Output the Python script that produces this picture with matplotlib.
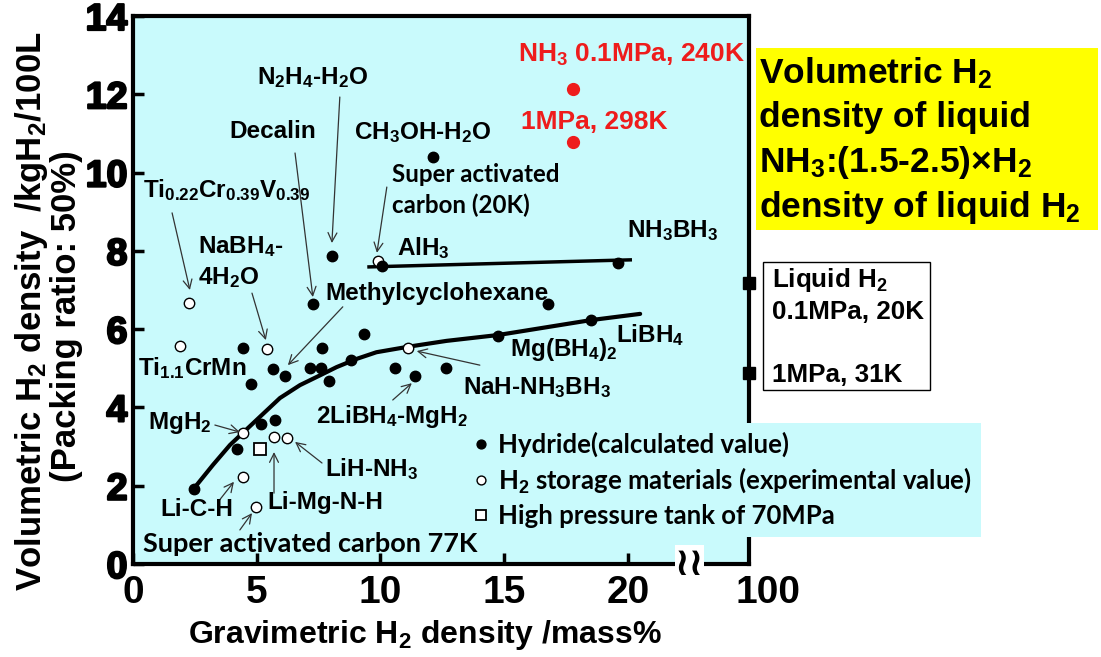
import matplotlib
matplotlib.use('Agg')
import matplotlib.pyplot as plt
import matplotlib.patheffects as pe
import matplotlib.transforms as mtransforms
from matplotlib.patches import Rectangle

W, H = 1101, 657

# hydrides (calculated value): gravimetric mass%, volumetric kgH2/100L
hyd_x = [2.45, 4.2, 5.17, 5.74, 4.44, 4.77, 5.66, 6.14, 7.15, 7.6, 7.64, 7.92, 8.8,
         9.33, 10.6, 11.4, 12.65, 14.75, 7.27, 16.77, 8.04, 10.06, 12.12, 19.6, 18.5]
hyd_y = [1.92, 2.95, 3.57, 3.67, 5.52, 4.6, 4.98, 4.8, 5.0, 5.0, 5.52, 4.68, 5.21,
         5.88, 5.0, 4.8, 5.0, 5.82, 6.64, 6.64, 7.87, 7.61, 10.4, 7.69, 6.23]

# H2 storage materials (experimental value)
exp_x = [1.9, 2.26, 5.41, 11.1, 4.45, 5.7, 6.21, 4.43, 4.97, 9.9]
exp_y = [5.57, 6.67, 5.49, 5.52, 3.34, 3.25, 3.21, 2.23, 1.46, 7.74]

# 70MPa tank
tank_x = [5.13]
tank_y = [2.95]

# liquid NH3 (0.1MPa 240K / 1MPa 298K)
nh3_x = [17.8, 17.8]
nh3_y = [12.13, 10.78]

# liquid H2 on the 100 mass% axis
lh2_y = [7.18, 4.88]

# trend through the hydrides
curve_x = [2.45, 3.23, 3.92, 4.44, 5.13, 5.94, 6.75, 7.56, 8.23, 9.04, 9.84,
           11.12, 12.67, 14.76, 18.5, 20.5]
curve_y = [1.92, 2.53, 3.04, 3.35, 3.76, 4.24, 4.57, 4.82, 5.03, 5.24, 5.41,
           5.55, 5.70, 5.85, 6.23, 6.39]

# AlH3 - NH3BH3 line
flat_x = [9.54, 20.1]
flat_y = [7.59, 7.77]

x_ticks = [0, 5, 10, 15, 20]
y_ticks = [0, 2, 4, 6, 8, 10, 12, 14]

plt.rcParams['font.family'] = ['Liberation Sans', 'DejaVu Sans']
plt.rcParams['font.weight'] = 'bold'
plt.rcParams['mathtext.fontset'] = 'custom'
plt.rcParams['mathtext.rm'] = 'Liberation Sans:bold'
plt.rcParams['mathtext.it'] = 'Liberation Sans:bold'
plt.rcParams['mathtext.bf'] = 'Liberation Sans:bold'

CYAN = '#c9fafc'
RED = '#ee1c1c'
CALIBRI = ['Lato', 'Liberation Sans', 'DejaVu Sans']
FS = 17.5


def fx(px):
    return px / W


def fy(py):
    return 1 - py / H


fig = plt.figure(figsize=(W / 100, H / 100), dpi=100)
ax = fig.add_axes([fx(133), fy(564), (749 - 133) / W, (564 - 16) / H])
ax.set_facecolor(CYAN)
ax.set_xlim(0, 24.9)
ax.set_ylim(0, 14)

for sp in ax.spines.values():
    sp.set_linewidth(3)
    sp.set_color('black')

ax.set_xticks(x_ticks)
ax.set_xticklabels([str(v) for v in x_ticks])
ax.set_yticks(y_ticks)
ax.set_yticklabels([str(v) for v in y_ticks])
ax.tick_params(direction='in', length=8, width=2.5, colors='black')
ax.tick_params(axis='x', labelsize=28, pad=8)
ax.tick_params(axis='y', labelsize=27, pad=4)
for lab in ax.get_yticklabels():
    lab.set_path_effects([pe.withStroke(linewidth=1.6, foreground='black')])
lbl_tr = mtransforms.offset_copy(ax.get_xaxis_transform(), fig=fig, y=-8, units='points')
ax.text(25.66, 0, '100', transform=lbl_tr, ha='center', va='top', fontsize=28, clip_on=False)

# axis break
ax.text(22.5, 0, '\u2240\u2240', ha='center', va='center', fontsize=28, family='DejaVu Sans',
        fontweight='bold', clip_on=False, zorder=6,
        bbox=dict(facecolor='white', edgecolor='none', pad=0.0))

# curves
ax.plot(curve_x, curve_y, color='black', lw=3, solid_capstyle='round',
        solid_joinstyle='round', zorder=3)
ax.plot(flat_x, flat_y, color='black', lw=2.5, zorder=3)

h_exp, = ax.plot(exp_x, exp_y, 'o', ms=7.5, mfc='white', mec='black', mew=1.0, ls='none', zorder=4)
h_hyd, = ax.plot(hyd_x, hyd_y, 'o', ms=7.5, color='black', ls='none', zorder=5)
h_tank, = ax.plot(tank_x, tank_y, 's', ms=8, mfc='white', mec='black', mew=1.3, ls='none', zorder=4)
ax.plot(nh3_x, nh3_y, 'o', ms=8.5, color=RED, ls='none', zorder=5)
ax.plot([24.9] * len(lh2_y), lh2_y, 's', ms=8, color='black', ls='none', clip_on=False, zorder=6)

# labels
notes = [
    (r'N$_2$H$_4$-H$_2$O', 7.27, 12.44, 'center'),
    ('Decalin', 5.66, 11.04, 'center'),
    (r'CH$_3$OH-H$_2$O', 11.72, 11.01, 'center'),
    (r'AlH$_3$', 10.67, 8.07, 'left'),
    (r'Ti$_{0.22}$Cr$_{0.39}$V$_{0.39}$', 3.8, 9.56, 'center'),
    (r'NaBH$_4$-', 2.63, 8.1, 'left'),
    (r'4H$_2$O', 2.63, 7.31, 'left'),
    ('Methylcyclohexane', 7.76, 6.92, 'left'),
    (r'Ti$_{1.1}$CrMn', 2.38, 5.01, 'center'),
    (r'MgH$_2$', 1.9, 3.6, 'center'),
    (r'2LiBH$_4$-MgH$_2$', 10.46, 3.76, 'center'),
    (r'Mg(BH$_4$)$_2$', 17.41, 5.47, 'center'),
    (r'LiBH$_4$', 20.9, 5.85, 'center'),
    (r'NaH-NH$_3$BH$_3$', 13.33, 4.5, 'left'),
    (r'NH$_3$BH$_3$', 21.8, 8.53, 'center'),
    (r'LiH-NH$_3$', 7.76, 2.43, 'left'),
    ('Li-Mg-N-H', 5.45, 1.56, 'left'),
    ('Li-C-H', 2.59, 1.38, 'center'),
]
for s, x, y, ha in notes:
    ax.text(x, y, s, ha=ha, va='center', fontsize=FS, zorder=7)

ax.text(10.46, 9.94, 'Super activated', ha='left', va='center', fontsize=17.4, family=CALIBRI, zorder=7)
ax.text(10.46, 9.17, 'carbon (20K)', ha='left', va='center', fontsize=17.4, family=CALIBRI, zorder=7)
ax.text(0.4, 0.52, 'Super activated carbon 77K', ha='left', va='center', fontsize=19.5,
        family=CALIBRI, zorder=9)

ax.text(20.16, 13.0, r'NH$_3$ 0.1MPa, 240K', ha='center', va='center', fontsize=19,
        color=RED, zorder=7)
ax.text(18.63, 11.29, '1MPa, 298K', ha='center', va='center', fontsize=19, color=RED, zorder=7)

arrows = [
    ((8.36, 11.93), (8.04, 8.2)),
    ((6.55, 10.5), (7.27, 6.82)),
    ((10.26, 9.63), (9.86, 7.95)),
    ((1.58, 8.97), (2.3, 7.0)),
    ((4.81, 6.92), (5.37, 5.72)),
    ((8.48, 6.57), (6.26, 5.08)),
    ((3.31, 3.55), (4.32, 3.37)),
    ((10.5, 4.19), (11.27, 4.62)),
    ((14.02, 5.08), (11.47, 5.44)),
    ((7.64, 2.58), (6.55, 3.12)),
    ((5.7, 1.81), (5.7, 2.86)),
    ((3.43, 1.58), (4.08, 2.1)),
    ((4.32, 0.87), (4.81, 1.3)),
]
for (x0, y0), (x1, y1) in arrows:
    ax.annotate('', xy=(x1, y1), xytext=(x0, y0),
                arrowprops=dict(arrowstyle='->', color='#333333', lw=0.9,
                                shrinkA=0, shrinkB=0, mutation_scale=16), zorder=6)

leg = ax.legend([h_hyd, h_exp, h_tank],
                ['Hydride(calculated value)', r'H$_2$ storage materials (experimental value)',
                 'High pressure tank of 70MPa'],
                loc='upper left', bbox_to_anchor=(fx(466), fy(423)), bbox_transform=fig.transFigure,
                borderaxespad=0, frameon=True, fancybox=False, framealpha=1,
                facecolor=CYAN, edgecolor='none', prop=dict(family=CALIBRI, weight='bold', size=18.5),
                handlelength=0.45, handletextpad=0.45, labelspacing=0.33, borderpad=0.35,
                markerscale=0.85)
leg.set_zorder(8)

# side notes
fig.patches.append(Rectangle((fx(756), fy(230)), (1098 - 756) / W, (230 - 48) / H,
                             transform=fig.transFigure, facecolor='#ffff00', edgecolor='none'))
side = ['Volumetric H$_2$', 'density of liquid', r'NH$_3$:(1.5-2.5)$\times$H$_2$',
        'density of liquid H$_2$']
for i, s in enumerate(side):
    fig.text(fx(759), fy(73 + 45 * i), s, ha='left', va='center', fontsize=25.5)

fig.patches.append(Rectangle((fx(763), fy(390)), (930 - 763) / W, (390 - 262) / H,
                             transform=fig.transFigure, facecolor='white', edgecolor='black', lw=1))
fig.text(fx(772), fy(280), 'Liquid H$_2$', ha='left', va='center', fontsize=18.7)
fig.text(fx(772), fy(312), '0.1MPa, 20K', ha='left', va='center', fontsize=18.7)
fig.text(fx(772), fy(375), '1MPa, 31K', ha='left', va='center', fontsize=18.7)

# axis titles
fig.text(fx(32), fy(311), r'Volumetric H$_2$ density  /kgH$_2$/100L', rotation=90,
         ha='center', va='center', fontsize=25)
fig.text(fx(67), fy(316), '(Packing ratio: 50%)', rotation=90, ha='center', va='center', fontsize=25)
fig.text(fx(425), fy(635), r'Gravimetric H$_2$ density /mass%', ha='center', va='center', fontsize=23)

fig.savefig('out.png', dpi=100)
